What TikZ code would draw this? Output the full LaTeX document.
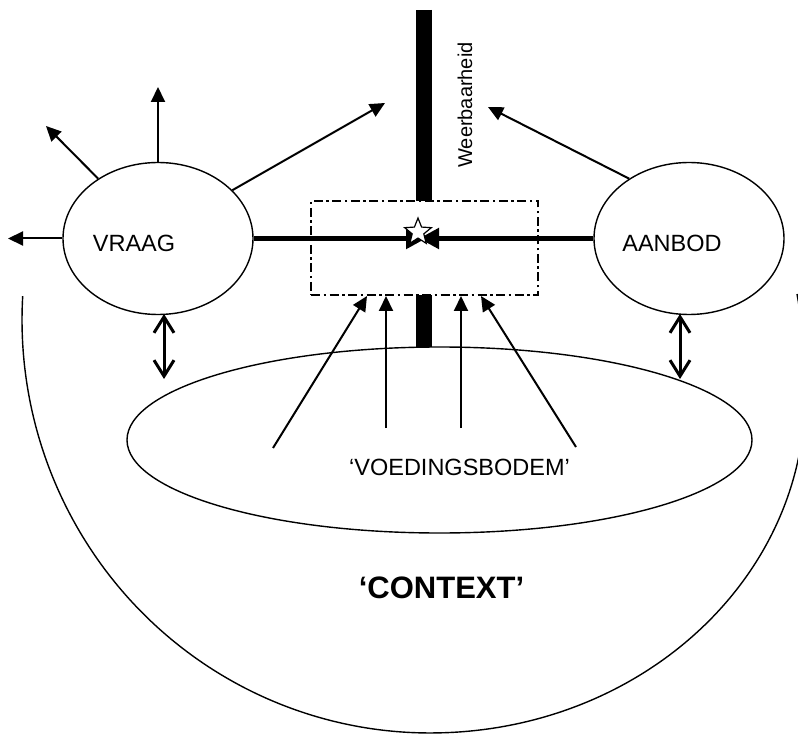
\documentclass[tikz,border=0pt]{standalone}
\usepackage{fontspec}
\setmainfont{Liberation Sans}
\usetikzlibrary{arrows.meta,shapes.geometric}
\begin{document}
\begin{tikzpicture}[x=1pt,y=-1pt,
  thinline/.style={line width=1.4pt},
  bubble/.style={draw, ellipse, line width=1.4pt, inner sep=0pt, minimum width=190pt, minimum height=152pt},
  lbl/.style={font=\fontsize{23.5}{28}\selectfont, inner sep=0pt, anchor=base},
  pijl/.style={line width=2pt, -{Triangle[length=15pt,width=14pt]}},
  dubbel/.style={line width=3pt, {Straight Barb[length=16pt,width=20pt]}-{Straight Barb[length=16pt,width=20pt]}},
  kern/.style={line width=5pt, -{Triangle[length=20pt,width=20pt]}},
  kaderstijl/.style={draw, fill=white, line width=1.3pt, dash pattern=on 9pt off 3.5pt on 2.5pt off 3.5pt, minimum width=227pt, minimum height=94pt, inner sep=0pt},
]
\useasboundingbox (0,0) rectangle (798,735);

% context arc
\draw[thinline] (22.7,296.2) arc[start angle=183.3, end angle=90, x radius=408, y radius=413]
  arc[start angle=90, end angle=0, x radius=375, y radius=338]
  .. controls (805,355) and (801,315) .. (797,294);

% voedingsbodem ellipse
\node[draw, ellipse, line width=1.4pt, inner sep=0pt, minimum width=625pt, minimum height=186pt] (bodem) at (439.5,440) {};

% weerbaarheid bar
\coordinate (bartop) at (424,10);
\coordinate (barbot) at (424,347);
\draw[line width=16pt] (bartop) -- (barbot);

% dashed box
\node[kaderstijl] (kader) at (424.5,248) {};

% ellipses
\node[bubble] (vraag) at (158,238.5) {};
\node[bubble] (aanbod) at (689,238.5) {};

% central line
\coordinate (midL) at (426,238.5);
\coordinate (midR) at (419,238.5);
\draw[kern] (vraag.east) -- (midL);
\draw[kern] (aanbod.west) -- (midR);
\node[star, star points=5, star point ratio=2.3, draw, fill=white, line width=1.2pt, minimum size=28pt, inner sep=0pt] (ster) at (418,232) {};

% arrows from VRAAG
\coordinate (vl) at (8,238.5);
\coordinate (vul) at (46,126);
\coordinate (vu) at (158,87);
\coordinate (vur) at (385,103);
\draw[pijl] (vraag.west) -- (vl);
\draw[pijl] (vraag.135) -- (vul);
\draw[pijl] (vraag.north) -- (vu);
\draw[pijl] (vraag.33) -- (vur);

% arrow from AANBOD
\coordinate (aul) at (488,107);
\draw[pijl] (aanbod.135) -- (aul);

% double arrows
\coordinate (d1a) at (164,314);
\coordinate (d1b) at (164,379);
\coordinate (d2a) at (680,314);
\coordinate (d2b) at (680,379);
\draw[dubbel] (d1a) -- (d1b);
\draw[dubbel] (d2a) -- (d2b);

% arrows from voedingsbodem
\coordinate (b1) at (273,448);
\coordinate (b2) at (386,428);
\coordinate (b3) at (461,428);
\coordinate (b4) at (576,447);
\coordinate (k1) at (367,296);
\coordinate (k2) at (386,296);
\coordinate (k3) at (461,296);
\coordinate (k4) at (481,296);
\draw[pijl] (b1) -- (k1);
\draw[pijl] (b2) -- (k2);
\draw[pijl] (b3) -- (k3);
\draw[pijl] (b4) -- (k4);

% texts
\node[lbl] (vraagtxt) at (134,252) {VRAAG};
\node[lbl] (aanbodtxt) at (672,252) {AANBOD};
\node[lbl] (bodemtxt) at (459.5,475) {‘VOEDINGSBODEM’};
\node[lbl, font=\bfseries\fontsize{31}{36}\selectfont] (context) at (441.5,598) {‘CONTEXT’};
\node[lbl, font=\fontsize{20}{24}\selectfont, rotate=90] (weer) at (472,105) {Weerbaarheid};
\end{tikzpicture}
\end{document}
